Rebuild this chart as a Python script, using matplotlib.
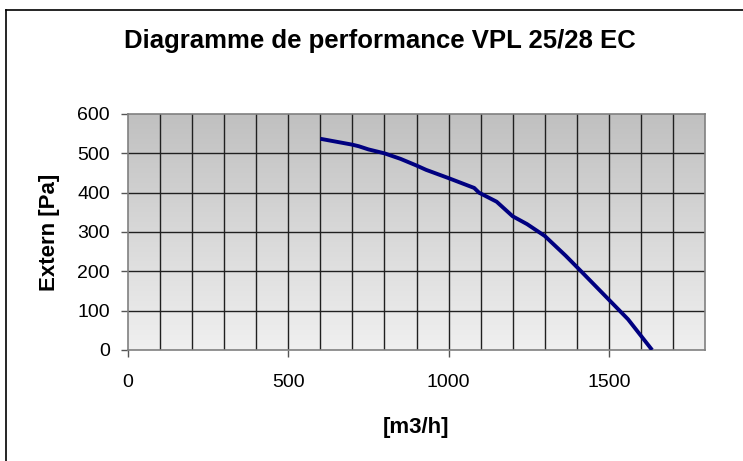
import numpy as np
import matplotlib
matplotlib.use("Agg")
import matplotlib.pyplot as plt
from matplotlib.lines import Line2D

plt.rcParams['font.family'] = ['Liberation Sans', 'DejaVu Sans']

# debit [m3/h] et pression externe [Pa]
debit = [600, 700, 720, 750, 800, 850, 900, 930, 1000, 1080, 1095, 1150,
         1200, 1245, 1300, 1365, 1410, 1500, 1560, 1635]
pression = [537, 522, 518, 510, 500, 486, 469, 458, 437, 412, 400, 377,
            340, 320, 290, 240, 203, 128, 78, 0]

x_ticks = [0, 500, 1000, 1500]
y_ticks = [0, 100, 200, 300, 400, 500, 600]

W, H = 743, 461
fig = plt.figure(figsize=(W / 100, H / 100), dpi=100)
ax = fig.add_axes([128 / W, 1 - 350 / H, 577 / W, 236 / H])

# fond en dégradé gris (haut) -> clair (bas)
grad = np.linspace(192, 240, 256).reshape(-1, 1) / 255.0
ax.imshow(np.dstack([grad, grad, grad]), extent=[0, 1800, 0, 600],
          aspect='auto', zorder=0, origin='upper')
ax.set_xlim(0, 1800)
ax.set_ylim(0, 600)

for gx in range(100, 1800, 100):
    ax.axvline(gx, color='#202020', lw=1.0, zorder=1)
for gy in range(100, 600, 100):
    ax.axhline(gy, color='#202020', lw=1.0, zorder=1)

ax.plot(debit, pression, color='#000080', lw=2.8, zorder=3,
        solid_capstyle='butt')

ax.set_xticks(x_ticks)
ax.set_yticks(y_ticks)
ax.tick_params(axis='both', direction='out', length=5, width=1,
               color='#555555', labelsize=14)
ax.tick_params(axis='x', pad=12)
ax.tick_params(axis='y', pad=8)
for s in ax.spines.values():
    s.set_color('#808080')
    s.set_linewidth(1.2)

ax.set_xlabel('[m3/h]', fontsize=16, fontweight='bold')
ax.xaxis.set_label_coords(0.5, -(427 - 350) / 236, transform=ax.transAxes)
ax.xaxis.label.set_va('center')
ax.set_ylabel('Extern [Pa]', fontsize=16, fontweight='bold')
ax.yaxis.set_label_coords(-(128 - 50) / 577, 0.5, transform=ax.transAxes)
ax.yaxis.label.set_va('center')

fig.text(380 / W, 1 - 41 / H, 'Diagramme de performance VPL 25/28 EC',
         ha='center', va='center', fontsize=18.5, fontweight='bold')

# cadre du graphique (gauche et haut visibles)
fig.add_artist(Line2D([6 / W, 6 / W], [0, 1 - 10 / H], color='black', lw=1.2))
fig.add_artist(Line2D([6 / W, 1], [1 - 10 / H, 1 - 10 / H], color='black', lw=1.2))

fig.savefig('out.png', dpi=100)
